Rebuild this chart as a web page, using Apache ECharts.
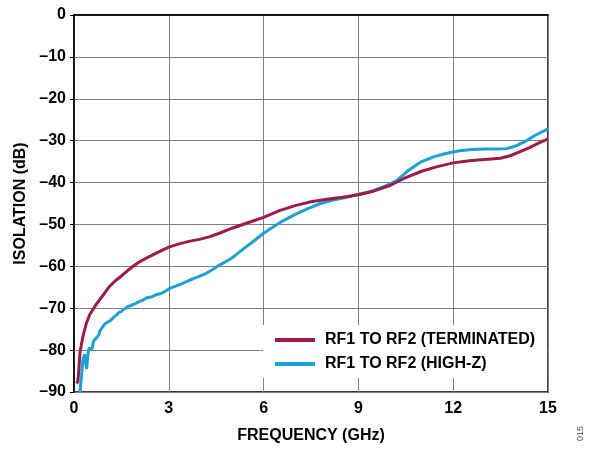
<!DOCTYPE html>
<html>
<head>
<meta charset="utf-8">
<script src="https://cdn.jsdelivr.net/npm/echarts@6/dist/echarts.min.js"></script>
<style>
  html, body { margin: 0; padding: 0; background: #fff; }
  #chart { width: 591px; height: 449px; }
</style>
</head>
<body>
<div id="chart"></div>
<script>
// Isolation vs frequency, RF1 to RF2
const terminatedFreq = [0.08, 0.12, 0.15, 0.19, 0.25, 0.3, 0.4, 0.5, 0.6, 0.72, 0.85, 0.95, 1.1, 1.3, 1.5, 1.7, 1.9, 2.1, 2.4, 2.7, 3.0, 3.3, 3.6, 4.0, 4.3, 4.6, 5.0, 5.5, 6.0, 6.5, 7.0, 7.5, 8.0, 8.5, 9.0, 9.5, 10.0, 10.5, 11.0, 11.5, 12.0, 12.5, 13.0, 13.5, 13.8, 14.1, 14.4, 14.7, 15.0];
const terminatedDb = [-88.0, -87.5, -85.0, -80.5, -78.0, -76.2, -73.4, -71.5, -70.3, -68.9, -67.6, -66.6, -65.0, -63.5, -62.3, -61.0, -59.8, -58.8, -57.6, -56.5, -55.4, -54.7, -54.1, -53.5, -52.9, -52.1, -50.9, -49.6, -48.3, -46.7, -45.5, -44.6, -44.0, -43.5, -42.9, -42.0, -40.7, -38.8, -37.3, -36.2, -35.3, -34.8, -34.5, -34.2, -33.6, -32.7, -31.7, -30.6, -29.6];

const highZFreq = [0.19, 0.24, 0.28, 0.33, 0.37, 0.40, 0.44, 0.48, 0.53, 0.57, 0.62, 0.67, 0.72, 0.78, 0.82, 0.88, 0.93, 1.0, 1.07, 1.14, 1.2, 1.28, 1.35, 1.42, 1.5, 1.56, 1.64, 1.72, 1.8, 1.88, 1.95, 2.03, 2.15, 2.3, 2.45, 2.6, 2.75, 2.9, 3.05, 3.2, 3.4, 3.6, 3.8, 4.0, 4.2, 4.4, 4.6, 4.8, 5.0, 5.2, 5.4, 5.6, 5.8, 6.0, 6.3, 6.6, 7.0, 7.4, 7.8, 8.2, 8.6, 9.0, 9.4, 9.8, 10.2, 10.6, 11.0, 11.4, 11.8, 12.2, 12.6, 13.0, 13.4, 13.7, 14.0, 14.3, 14.6, 15.0];
const highZDb = [-90.0, -86.0, -82.5, -81.0, -83.0, -84.5, -81.0, -79.5, -79.3, -79.8, -77.8, -77.6, -77.0, -76.4, -75.4, -75.8, -74.2, -73.6, -73.3, -73.0, -72.8, -72.0, -71.6, -71.0, -70.8, -70.3, -70.0, -69.5, -69.4, -69.1, -68.9, -68.5, -68.2, -67.5, -67.3, -66.8, -66.5, -65.9, -65.2, -64.8, -64.2, -63.5, -62.9, -62.3, -61.6, -60.7, -59.7, -58.9, -58.0, -56.8, -55.6, -54.5, -53.3, -52.1, -50.6, -49.2, -47.6, -46.2, -45.0, -44.2, -43.6, -42.8, -42.1, -41.0, -39.6, -37.0, -35.0, -33.8, -33.0, -32.4, -32.1, -32.0, -32.0, -31.9, -31.2, -30.1, -28.7, -27.2];

const seriesNames = ['RF1 TO RF2 (TERMINATED)', 'RF1 TO RF2 (HIGH-Z)'];
const seriesColors = ['#9e1a47', '#1ba1d9'];
const xTicks = [0, 3, 6, 9, 12, 15];
const yTicks = [-90, -80, -70, -60, -50, -40, -30, -20, -10, 0];

const zip = (xs, ys) => xs.map((x, i) => [x, ys[i]]);
const font = 'Liberation Sans, Arial, sans-serif';
const boldText = { fontFamily: font, fontWeight: 'bold', fontSize: 16, color: '#000' };

const chart = echarts.init(document.getElementById('chart'), null, { renderer: 'canvas' });
chart.setOption({
  animation: false,
  backgroundColor: '#fff',
  grid: {
    left: 74, right: 43, top: 15, bottom: 54,
    show: true, borderColor: '#000', borderWidth: 1.5, backgroundColor: 'transparent'
  },
  xAxis: {
    type: 'value',
    min: xTicks[0], max: xTicks[xTicks.length - 1], interval: 3,
    name: 'FREQUENCY (GHz)', nameLocation: 'middle', nameGap: 36,
    nameTextStyle: boldText,
    axisLine: { show: true, lineStyle: { color: '#000', width: 1.5 } },
    axisTick: { show: false },
    axisLabel: Object.assign({ margin: 9 }, boldText),
    splitLine: { show: true, lineStyle: { color: '#7f7f7f', width: 1 } }
  },
  yAxis: {
    type: 'value',
    min: yTicks[0], max: yTicks[yTicks.length - 1], interval: 10,
    name: 'ISOLATION (dB)', nameLocation: 'middle', nameGap: 45, nameRotate: 90,
    nameTextStyle: boldText,
    axisLine: { show: true, lineStyle: { color: '#000', width: 1.5 } },
    axisTick: { show: true, length: 4, inside: false, lineStyle: { color: '#000' } },
    axisLabel: Object.assign({
      margin: 8,
      padding: [4, 0, 0, 0],
      formatter: v => (v < 0 ? '\u2013' + Math.abs(v) : String(v))
    }, boldText),
    splitLine: { show: true, lineStyle: { color: '#7f7f7f', width: 1 } }
  },
  legend: {
    orient: 'vertical',
    left: 263, top: 325,
    padding: [7, 12, 6, 12],
    backgroundColor: '#fff',
    itemWidth: 40, itemHeight: 4, itemGap: 8,
    icon: 'rect',
    textStyle: Object.assign({ lineHeight: 16, padding: [0, 0, 0, 5] }, boldText),
    data: seriesNames
  },
  series: [
    {
      name: seriesNames[0], type: 'line', showSymbol: false, symbol: 'none',
      data: zip(terminatedFreq, terminatedDb),
      lineStyle: { color: seriesColors[0], width: 3 }, itemStyle: { color: seriesColors[0] },
      z: 3
    },
    {
      name: seriesNames[1], type: 'line', showSymbol: false, symbol: 'none',
      data: zip(highZFreq, highZDb),
      lineStyle: { color: seriesColors[1], width: 3 }, itemStyle: { color: seriesColors[1] },
      z: 2
    }
  ],
  graphic: [
    {
      type: 'text', left: 576, top: 426, rotation: Math.PI / 2,
      style: { text: '015', fontFamily: font, fontSize: 9, fill: '#555' }
    }
  ]
});
</script>
</body>
</html>
